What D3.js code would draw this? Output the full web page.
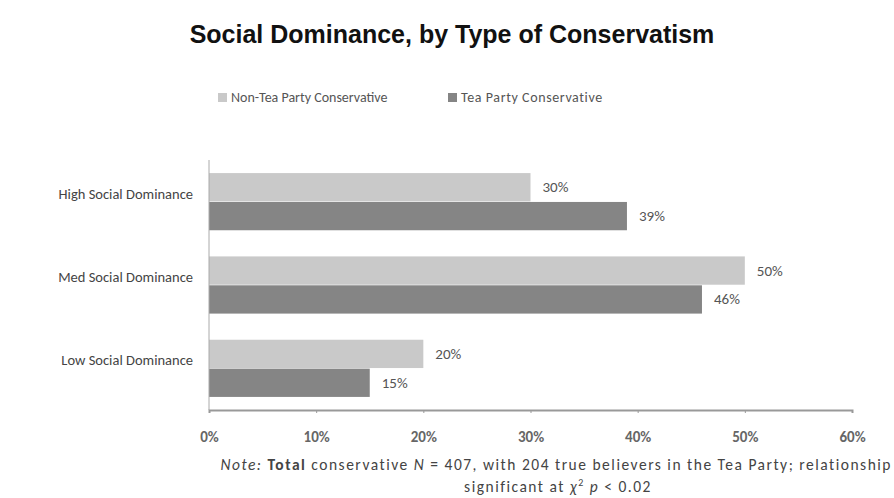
<!DOCTYPE html>
<html><head><meta charset="utf-8">
<script src="https://cdn.jsdelivr.net/npm/d3@7"></script>
<style>body{margin:0;background:#fff}</style>
</head><body>
<svg id="c" width="894" height="498"></svg>
<script>
const categories = ["High Social Dominance", "Med Social Dominance", "Low Social Dominance"];
const seriesNames = ["Non-Tea Party Conservative", "Tea Party Conservative"];
const nonTea = [30, 50, 20];
const teaParty = [39, 46, 15];
const tickValues = [0, 10, 20, 30, 40, 50, 60];
const colors = ["#c9c9c9", "#858585"];

const svg = d3.select("#c");
const font = "Calibri, Carlito, 'Liberation Sans', Arial, sans-serif";
const x = d3.scaleLinear().domain([0, 60]).range([209, 852]);
const y = d3.scaleBand().domain(categories).range([160, 410]).paddingInner(0.3).paddingOuter(0.15);
const sub = d3.scaleBand().domain([0, 1]).range([0, y.bandwidth()]).padding(0.02);

svg.append("text").attr("x", 452).attr("y", 43).attr("text-anchor", "middle")
  .attr("font-family", "Arial, 'Liberation Sans', sans-serif").attr("font-weight", "bold")
  .attr("font-size", 25).attr("fill", "#111").text("Social Dominance, by Type of Conservatism");

// legend
const leg = [{x: 218}, {x: 448}];
seriesNames.forEach((n, i) => {
  svg.append("rect").attr("x", leg[i].x).attr("y", 93).attr("width", 9).attr("height", 9).attr("fill", colors[i]);
  svg.append("text").attr("x", leg[i].x + 13).attr("y", 102).attr("font-family", font)
    .attr("font-size", 14).attr("letter-spacing", i === 1 ? 0.6 : 0).attr("fill", "#555").text(n);
});

const data = categories.map((c, i) => ({c, v: [nonTea[i], teaParty[i]]}));
const g = svg.append("g");
data.forEach(d => {
  d.v.forEach((v, j) => {
    g.append("rect").attr("x", x(0)).attr("y", y(d.c) + sub(j)).attr("width", x(v) - x(0))
      .attr("height", sub.bandwidth()).attr("fill", colors[j]);
    g.append("text").attr("x", x(v) + 12).attr("y", y(d.c) + sub(j) + sub.bandwidth() / 2 + 5)
      .attr("font-family", font).attr("font-size", 15).attr("fill", "#555").text(v + "%");
  });
  g.append("text").attr("x", 193).attr("y", y(d.c) + y.bandwidth() / 2 - 8 + 5).attr("text-anchor", "end")
    .attr("font-family", font).attr("font-size", 14.5).attr("fill", "#444").text(d.c);
});

// y axis line
svg.append("line").attr("x1", x(0)).attr("x2", x(0)).attr("y1", 160).attr("y2", 410).attr("stroke", "#aaa");
// x axis
const xa = svg.append("g").attr("transform", "translate(0,410)")
  .call(d3.axisBottom(x).tickValues(tickValues).tickFormat(d => d + "%").tickSize(3).tickPadding(18));
xa.select(".domain").attr("stroke", "#999").attr("stroke-width", 2);
xa.selectAll(".tick line").attr("stroke", "#999");
xa.selectAll("text").attr("font-family", font).attr("font-size", 15).attr("font-weight", "bold").attr("fill", "#666");

const note = svg.append("text").attr("x", 892).attr("y", 470).attr("text-anchor", "end")
  .attr("font-family", font).attr("font-size", 15.5).attr("letter-spacing", 1.5).attr("fill", "#444");
note.append("tspan").attr("font-style", "italic").text("Note:");
note.append("tspan").attr("font-weight", "bold").text(" Total");
note.append("tspan").text(" conservative ");
note.append("tspan").attr("font-style", "italic").text("N");
note.append("tspan").text(" = 407, with 204 true believers in the Tea Party; relationship");
const note2 = svg.append("text").attr("x", 558).attr("y", 492).attr("text-anchor", "middle")
  .attr("font-family", font).attr("font-size", 15.5).attr("letter-spacing", 1.5).attr("fill", "#444");
note2.append("tspan").text("significant at ");
note2.append("tspan").attr("font-style", "italic").text("χ");
note2.append("tspan").attr("font-size", 10).attr("dy", -6).text("2");
note2.append("tspan").attr("dy", 6).text(" ");
note2.append("tspan").attr("font-style", "italic").text("p");
note2.append("tspan").text(" < 0.02");
</script>
</body></html>
